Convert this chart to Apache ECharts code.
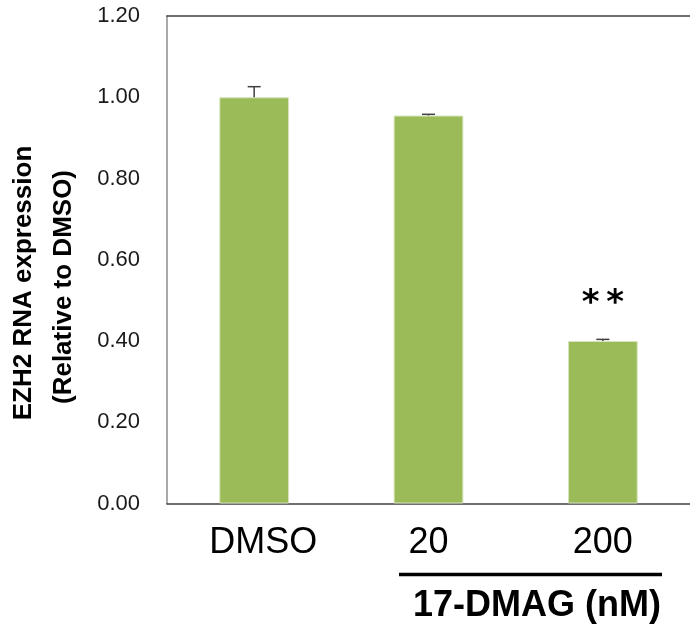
<!DOCTYPE html>
<html>
<head>
<meta charset="utf-8">
<script src="https://cdn.jsdelivr.net/npm/echarts@6/dist/echarts.min.js"></script>
<style>
  html, body { margin: 0; padding: 0; background: #fff; }
  #chart { width: 690px; height: 626px; }
</style>
</head>
<body>
<div id="chart"></div>
<script>
var chart = echarts.init(document.getElementById('chart'));

// data
var categories = ['DMSO', '20', '200'];
var expression = [1.00, 0.955, 0.400];
var errors = [0.026, 0.003, 0.004];
var significance = ['', '', '*\u2009*'];
var yTicks = [0, 0.2, 0.4, 0.6, 0.8, 1.0, 1.2];

var errorData = expression.map(function (v, i) {
    return [i, v, v + errors[i]];
});

var option = {
    animation: false,
    grid: {
        left: 167,
        top: 16,
        width: 532,
        bottom: 122.5
    },
    xAxis: [
        {
            type: 'category',
            data: [
                { value: categories[0], textStyle: { padding: [0, 0, 0, 18] } },
                categories[1],
                categories[2]
            ],
            axisLine: { lineStyle: { color: '#404040', width: 1.5 } },
            axisTick: { show: false },
            axisLabel: {
                color: '#000',
                fontFamily: 'Liberation Sans',
                fontSize: 36,
                margin: 22
            }
        },
        {
            type: 'category',
            position: 'top',
            data: categories,
            axisLine: { lineStyle: { color: '#404040', width: 1.5 } },
            axisTick: { show: false },
            axisLabel: { show: false }
        }
    ],
    yAxis: {
        type: 'value',
        min: yTicks[0],
        max: yTicks[yTicks.length - 1],
        interval: 0.2,
        splitLine: { show: false },
        axisLine: { show: true, lineStyle: { color: '#8c8c8c', width: 1.5 } },
        axisTick: { show: false },
        axisLabel: {
            color: '#1a1a1a',
            fontFamily: 'Liberation Sans',
            fontSize: 22,
            margin: 27,
            formatter: function (v) { return v.toFixed(2); }
        }
    },
    series: [
        {
            type: 'bar',
            data: expression,
            barWidth: '40%',
            itemStyle: {
                color: '#9BBB59',
                borderColor: '#D7E4BD',
                borderWidth: 1
            },
            label: {
                show: true,
                position: 'top',
                distance: 20,
                formatter: function (p) { return significance[p.dataIndex]; },
                color: '#000',
                fontFamily: 'DejaVu Sans',
                fontWeight: 'bold',
                fontSize: 34
            }
        },
        {
            type: 'custom',
            data: errorData,
            z: 3,
            renderItem: function (params, api) {
                var x = api.value(0);
                var lo = api.coord([x, api.value(1)]);
                var hi = api.coord([x, api.value(2)]);
                var cap = 6.5;
                var style = { stroke: '#404040', lineWidth: 1.5 };
                return {
                    type: 'group',
                    children: [
                        { type: 'line', shape: { x1: lo[0], y1: lo[1], x2: hi[0], y2: hi[1] }, style: style },
                        { type: 'line', shape: { x1: hi[0] - cap, y1: hi[1], x2: hi[0] + cap, y2: hi[1] }, style: style }
                    ]
                };
            }
        }
    ],
    graphic: [
        {
            type: 'text',
            x: 24,
            y: 283,
            rotation: Math.PI / 2,
            style: {
                text: 'EZH2 RNA expression',
                fill: '#000',
                font: 'bold 26px "Liberation Sans"',
                textAlign: 'center',
                textVerticalAlign: 'middle'
            }
        },
        {
            type: 'text',
            x: 64,
            y: 287,
            rotation: Math.PI / 2,
            style: {
                text: '(Relative to DMSO)',
                fill: '#000',
                font: 'bold 26px "Liberation Sans"',
                textAlign: 'center',
                textVerticalAlign: 'middle'
            }
        },
        {
            type: 'line',
            shape: { x1: 399, y1: 574.5, x2: 662, y2: 574.5 },
            style: { stroke: '#000', lineWidth: 3.5 }
        },
        {
            type: 'text',
            x: 537,
            y: 606,
            style: {
                text: '17-DMAG (nM)',
                fill: '#000',
                font: 'bold 36px "Liberation Sans"',
                textAlign: 'center',
                textVerticalAlign: 'middle'
            }
        }
    ]
};

chart.setOption(option);
</script>
</body>
</html>
